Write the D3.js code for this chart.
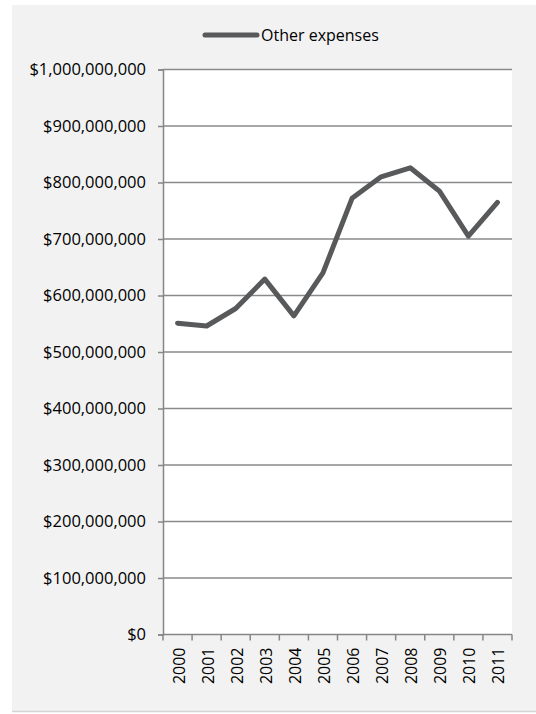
<!DOCTYPE html>
<html>
<head>
<meta charset="utf-8">
<script src="https://cdn.jsdelivr.net/npm/d3@7/dist/d3.min.js"></script>
<style>
  html, body { margin: 0; padding: 0; background: #ffffff; }
  svg { display: block; }
  text { font-family: "Open Sans", "Liberation Sans", sans-serif; fill: #000000; }
</style>
</head>
<body>
<svg id="chart" width="536" height="714"></svg>
<script>
// Annual other expenses, in dollars
const years = ["2000", "2001", "2002", "2003", "2004", "2005",
               "2006", "2007", "2008", "2009", "2010", "2011"];
const otherExpenses = [551e6, 546e6, 577e6, 629e6, 564e6, 640e6,
                       772e6, 810e6, 826e6, 785e6, 705e6, 765e6];
const yTicks = [0, 100e6, 200e6, 300e6, 400e6, 500e6, 600e6, 700e6, 800e6, 900e6, 1000e6];
const seriesName = "Other expenses";

const svg = d3.select("#chart");
const W = 536, H = 714;
const margin = { left: 163, right: 24, top: 69.5, bottom: 79.5 };
const plotW = W - margin.left - margin.right;
const plotH = H - margin.top - margin.bottom;

// Panel background with a soft bottom edge
svg.append("rect").attr("x", 12).attr("y", 5).attr("width", W - 12).attr("height", 706)
  .attr("fill", "#f2f2f2");
svg.append("line").attr("x1", 12).attr("x2", W).attr("y1", 711.5).attr("y2", 711.5)
  .attr("stroke", "#d4d4d4").attr("stroke-width", 1.5);

const g = svg.append("g").attr("transform", `translate(${margin.left},${margin.top})`);

const x = d3.scaleBand().domain(years).range([0, plotW]);
const y = d3.scaleLinear().domain([0, 1000e6]).range([plotH, 0]);

// Plot area
g.append("rect").attr("width", plotW).attr("height", plotH).attr("fill", "#ffffff");

// Horizontal gridlines
g.append("g").selectAll("line").data(yTicks.filter(d => d > 0)).join("line")
  .attr("x1", 0).attr("x2", plotW)
  .attr("y1", d => y(d)).attr("y2", d => y(d))
  .attr("stroke", "#8a8a8a").attr("stroke-width", 1.5);

// Y axis
const fmt = d => "$" + d3.format(",")(d);
const yAxis = g.append("g")
  .call(d3.axisLeft(y).tickValues(yTicks).tickFormat(fmt).tickSize(5).tickPadding(12));
yAxis.select(".domain").attr("stroke", "#868686").attr("stroke-width", 1.5);
yAxis.selectAll(".tick line").attr("stroke", "#868686").attr("stroke-width", 1.5);
yAxis.selectAll(".tick text").attr("font-size", "16.5px")
  .attr("font-family", "\"Open Sans\", sans-serif").attr("fill", "#000000");

// X axis: ticks at category boundaries, labels rotated
const xg = g.append("g").attr("transform", `translate(0,${plotH})`);
xg.append("line").attr("x1", 0).attr("x2", plotW).attr("y1", 0).attr("y2", 0)
  .attr("stroke", "#868686").attr("stroke-width", 1.5);
const bounds = years.map(d => x(d)).concat([plotW]);
xg.selectAll("line.tk").data(bounds).join("line").attr("class", "tk")
  .attr("x1", d => d).attr("x2", d => d).attr("y1", 0).attr("y2", 6)
  .attr("stroke", "#868686").attr("stroke-width", 1.5);
xg.selectAll("text.yr").data(years).join("text").attr("class", "yr")
  .attr("transform", d => `translate(${x(d) + x.bandwidth() / 2 + 1},13) rotate(-90)`)
  .attr("text-anchor", "end").attr("dominant-baseline", "central")
  .attr("font-size", "16px").text(d => d);

// Series line
const line = d3.line()
  .x((d, i) => x(years[i]) + x.bandwidth() / 2)
  .y(d => y(d));
g.append("path").datum(otherExpenses)
  .attr("d", line).attr("fill", "none")
  .attr("stroke", "#58595b").attr("stroke-width", 5)
  .attr("stroke-linejoin", "round").attr("stroke-linecap", "round");

// Legend
const lg = svg.append("g");
lg.append("line").attr("x1", 205).attr("x2", 257).attr("y1", 35).attr("y2", 35)
  .attr("stroke", "#58595b").attr("stroke-width", 5).attr("stroke-linecap", "round");
lg.append("text").attr("x", 261).attr("y", 35).attr("dominant-baseline", "central")
  .attr("font-size", "16px").text(seriesName);
</script>
</body>
</html>
